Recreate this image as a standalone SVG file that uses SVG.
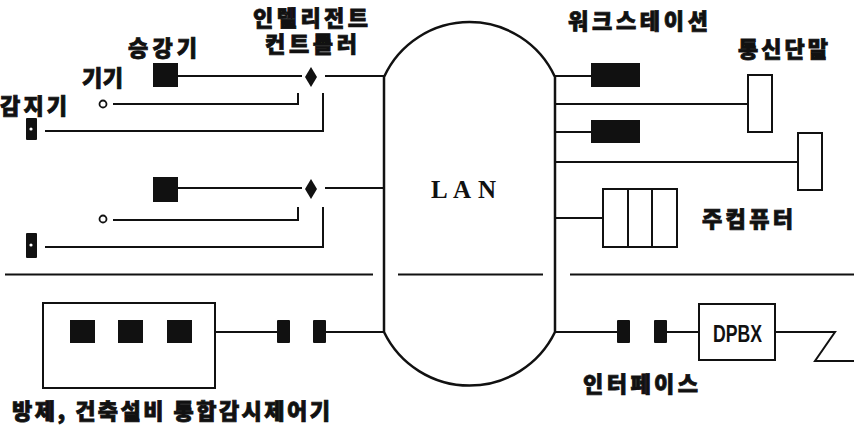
<svg xmlns="http://www.w3.org/2000/svg" width="854" height="435" viewBox="0 0 854 435">
<style>
.ln{stroke:#111;stroke-width:2;fill:none}
.bx{stroke:#111;stroke-width:2;fill:#fff}
.blk{fill:#111}
.ko{font-family:"Noto Sans CJK KR","Noto Sans",sans-serif;font-weight:900;font-size:22px;fill:#111;stroke:#111;stroke-width:0.8}
.la{font-family:"Liberation Sans",Arial,sans-serif;font-weight:bold;fill:#111}
</style>
<rect width="854" height="435" fill="#fff"/>
<g id="connectors">
<path class="ln" d="M178,76 H302 M325,76 H384"/>
<path class="ln" d="M113,104 H298 V93"/>
<path class="ln" d="M45,131 H323 V93"/>
<path class="ln" d="M178,188 H302 M325,188 H384"/>
<path class="ln" d="M113,220 H298 V207"/>
<path class="ln" d="M45,247 H323 V207"/>
<path class="ln" d="M555,76 H591 M555,104 H748 M555,132 H591 M555,162 H798 M555,218 H603"/>
<path class="ln" d="M215,332 H277 M326,332 H384"/>
<path class="ln" d="M555,332 H617 M667,332 H699 M775,332 H835 L815,361 H854"/>
</g>
<g id="separator">
<path class="ln" d="M5,274.5 H373 M398,274.5 H543 M570,274.5 H854" stroke-width="1.8"/>
</g>
<g id="lan">
<path d="M384,77 A94,94 0 0,1 555,77 V332 A95,95 0 0,1 384,332 Z" fill="none" stroke="#111" stroke-width="2.5"/>
<text x="431" y="198" font-family="'Liberation Serif',serif" font-weight="bold" font-size="25" fill="#111" textLength="65" lengthAdjust="spacing">L A N</text>
</g>
<g id="controller1">
<rect class="blk" x="153" y="63" width="25" height="24"/>
<path class="blk" d="M311,67 L317,77 L311,87 L305,77 Z"/>
<circle cx="103" cy="104" r="3.5" fill="none" stroke="#111" stroke-width="1.8"/>
<rect class="blk" x="26" y="118" width="11" height="22" rx="1"/>
<circle cx="31" cy="129" r="1.6" fill="#fff"/>
</g>
<g id="controller2">
<rect class="blk" x="153" y="177" width="25" height="25"/>
<path class="blk" d="M311,179 L317,189 L311,199 L305,189 Z"/>
<circle cx="103" cy="219" r="3.5" fill="none" stroke="#111" stroke-width="1.8"/>
<rect class="blk" x="26" y="233" width="11" height="25" rx="1"/>
<circle cx="31" cy="245" r="1.6" fill="#fff"/>
</g>
<g id="labels-left">
<text class="ko"><tspan x="253" y="26" textLength="115" lengthAdjust="spacing">인텔리전트</tspan><tspan x="265" y="52" textLength="92" lengthAdjust="spacing">컨트롤러</tspan></text>
<text class="ko" x="128" y="56" textLength="69" lengthAdjust="spacing">승강기</text>
<text class="ko" x="82" y="86" textLength="41" lengthAdjust="spacing">기기</text>
<text class="ko" x="0" y="114" textLength="67" lengthAdjust="spacing">감지기</text>
</g>
<g id="workstation1"><rect class="blk" x="591" y="63" width="49" height="24"/></g>
<g id="workstation2"><rect class="blk" x="591" y="120" width="49" height="23"/></g>
<g id="terminal1"><rect class="bx" x="748" y="75" width="24" height="57"/></g>
<g id="terminal2"><rect class="bx" x="798" y="133" width="24" height="57"/></g>
<g id="maincomputer">
<rect class="bx" x="603" y="189" width="74" height="58"/>
<path class="ln" d="M628,189 V247 M652,189 V247"/>
</g>
<g id="labels-right">
<text class="ko" x="568" y="29" textLength="140" lengthAdjust="spacing">워크스테이션</text>
<text class="ko" x="738" y="57" textLength="90" lengthAdjust="spacing">통신단말</text>
<text class="ko" x="702" y="227" textLength="91" lengthAdjust="spacing">주컴퓨터</text>
</g>
<g id="panel">
<rect class="bx" x="43" y="303" width="172" height="85"/>
<rect class="blk" x="70" y="320" width="25" height="23"/>
<rect class="blk" x="118" y="320" width="25" height="23"/>
<rect class="blk" x="167" y="320" width="25" height="23"/>
<text class="ko" x="12" y="419" textLength="318" lengthAdjust="spacing">방제, 건축설비 통합감시제어기</text>
</g>
<g id="interface-left">
<rect class="blk" x="277" y="320" width="13" height="23" rx="1"/>
<rect class="blk" x="313" y="320" width="13" height="23" rx="1"/>
</g>
<g id="interface-right">
<rect class="blk" x="617" y="320" width="13" height="23" rx="1"/>
<rect class="blk" x="654" y="320" width="13" height="23" rx="1"/>
<text class="ko" x="583" y="392" textLength="115" lengthAdjust="spacing">인터페이스</text>
</g>
<g id="dpbx">
<rect class="bx" x="699" y="304" width="76" height="56"/>
<text class="la" x="713" y="342" font-size="23" textLength="49" lengthAdjust="spacingAndGlyphs">DPBX</text>
</g>
</svg>
